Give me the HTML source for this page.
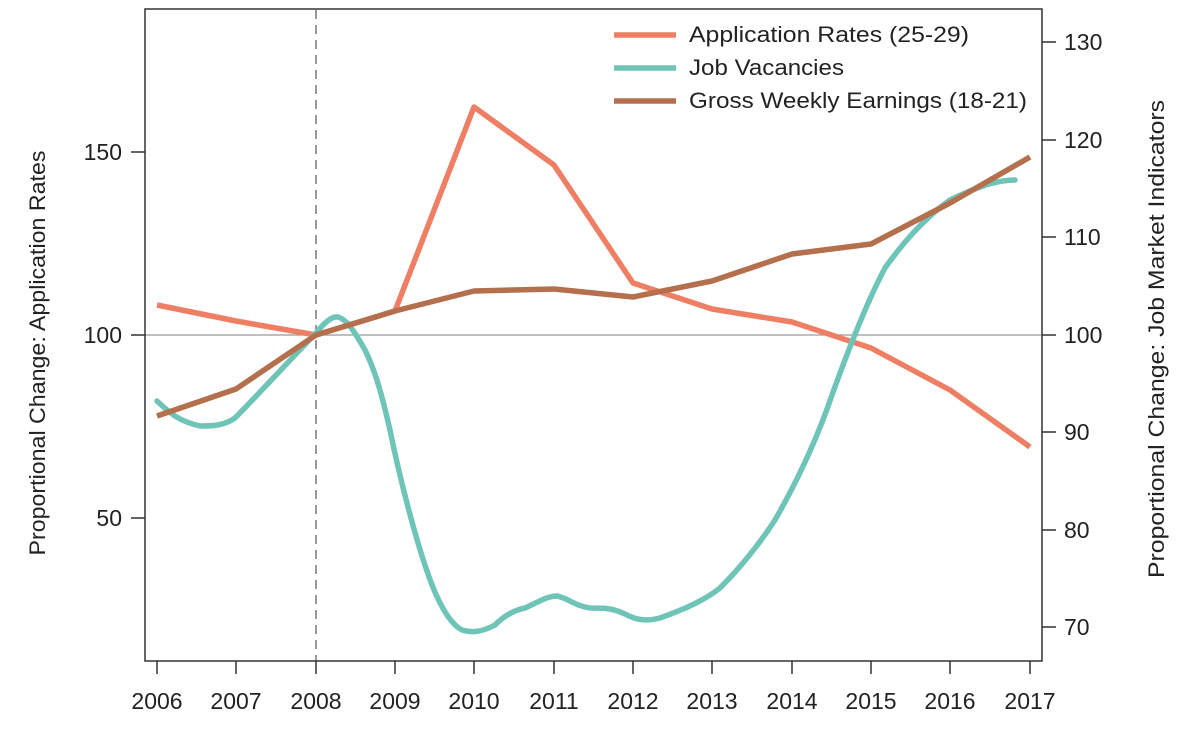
<!DOCTYPE html>
<html><head><meta charset="utf-8"><style>
html,body{margin:0;padding:0;background:#fff;}
svg{display:block;font-family:"Liberation Sans",sans-serif;}
</style></head><body>
<svg width="1182" height="730" viewBox="0 0 1182 730" xmlns="http://www.w3.org/2000/svg">
<rect width="1182" height="730" fill="#fff"/>
<line x1="145" y1="335" x2="1042" y2="335" stroke="#999" stroke-width="1.3"/>
<line x1="316" y1="10" x2="316" y2="661" stroke="#555" stroke-width="1.2" stroke-dasharray="9,6"/>
<polyline fill="none" stroke="#ef7f64" stroke-width="5.5" stroke-linejoin="round" points="157,305 236,321 316,335 395,311 474,107 554,165 633,283 712,309 792,322 871,348 950,390 1030,447"/>
<path fill="none" stroke="#6fc4b8" stroke-width="5.5" stroke-linejoin="round" stroke-linecap="round" d="M157,401 C170,413 178,421 200,426 C215,426 225,425 235,418 C250,403 290,360 316,333 C325,322 332,316 338,317 C348,320 355,333 365,350 C375,370 382,395 390,430 C398,470 415,540 432,585 C442,610 452,625 462,630 C472,633 482,632 495,625 C505,615 515,610 525,608 C540,601 548,596 557,596 C568,598 575,606 590,608 C605,608 612,608 625,614 C638,621 648,621 660,618 C685,609 705,600 720,588 C740,568 760,543 775,520 C795,485 815,445 832,395 C850,345 868,300 885,268 C905,240 925,218 950,200 C975,188 995,180 1015,180"/>
<polyline fill="none" stroke="#b46f4c" stroke-width="5.5" stroke-linejoin="round" points="157,416 236,389 316,335 395,311 474,291 554,289 633,297 712,281 792,254 871,244 950,203 1030,157"/>
<rect x="145" y="9" width="897" height="652" fill="none" stroke="#333" stroke-width="1.5"/>
<g stroke="#333" stroke-width="1.5">
<line x1="157" y1="661" x2="157" y2="674"/><line x1="236" y1="661" x2="236" y2="674"/><line x1="316" y1="661" x2="316" y2="674"/><line x1="395" y1="661" x2="395" y2="674"/><line x1="474" y1="661" x2="474" y2="674"/><line x1="554" y1="661" x2="554" y2="674"/><line x1="633" y1="661" x2="633" y2="674"/><line x1="712" y1="661" x2="712" y2="674"/><line x1="792" y1="661" x2="792" y2="674"/><line x1="871" y1="661" x2="871" y2="674"/><line x1="950" y1="661" x2="950" y2="674"/><line x1="1030" y1="661" x2="1030" y2="674"/>
<line x1="131" y1="152" x2="145" y2="152"/><line x1="131" y1="335" x2="145" y2="335"/><line x1="131" y1="518" x2="145" y2="518"/>
<line x1="1042" y1="42" x2="1056" y2="42"/><line x1="1042" y1="140" x2="1056" y2="140"/><line x1="1042" y1="237" x2="1056" y2="237"/><line x1="1042" y1="335" x2="1056" y2="335"/><line x1="1042" y1="432" x2="1056" y2="432"/><line x1="1042" y1="530" x2="1056" y2="530"/><line x1="1042" y1="627" x2="1056" y2="627"/>
</g>
<g font-size="23" fill="#222" text-anchor="middle">
<text x="157" y="709">2006</text><text x="236" y="709">2007</text><text x="316" y="709">2008</text><text x="395" y="709">2009</text><text x="474" y="709">2010</text><text x="554" y="709">2011</text><text x="633" y="709">2012</text><text x="712" y="709">2013</text><text x="792" y="709">2014</text><text x="871" y="709">2015</text><text x="950" y="709">2016</text><text x="1030" y="709">2017</text>
</g>
<g font-size="23" fill="#222" text-anchor="end">
<text x="122" y="160">150</text><text x="122" y="343">100</text><text x="122" y="526">50</text>
</g>
<g font-size="23" fill="#222">
<text x="1064" y="50">130</text><text x="1064" y="148">120</text><text x="1064" y="245">110</text><text x="1064" y="343">100</text><text x="1064" y="440">90</text><text x="1064" y="538">80</text><text x="1064" y="635">70</text>
</g>
<text transform="translate(45,353) rotate(-90)" font-size="22" fill="#222" text-anchor="middle" textLength="405" lengthAdjust="spacingAndGlyphs">Proportional Change: Application Rates</text>
<text transform="translate(1164,339) rotate(-90)" font-size="22" fill="#222" text-anchor="middle" textLength="478" lengthAdjust="spacingAndGlyphs">Proportional Change: Job Market Indicators</text>
<line x1="614" y1="35" x2="676" y2="35" stroke="#ef7f64" stroke-width="5.5"/>
<line x1="614" y1="68" x2="676" y2="68" stroke="#6fc4b8" stroke-width="5.5"/>
<line x1="614" y1="101" x2="676" y2="101" stroke="#b46f4c" stroke-width="5.5"/>
<g font-size="22" fill="#222">
<text x="689" y="42" textLength="280" lengthAdjust="spacingAndGlyphs">Application Rates (25-29)</text>
<text x="689" y="75" textLength="155" lengthAdjust="spacingAndGlyphs">Job Vacancies</text>
<text x="689" y="108" textLength="338" lengthAdjust="spacingAndGlyphs">Gross Weekly Earnings (18-21)</text>
</g>
</svg>
</body></html>
